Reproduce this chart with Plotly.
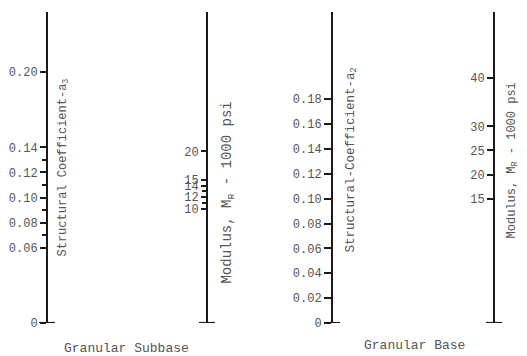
import plotly.graph_objects as go

# ---------------- data ----------------
a3_ticks = [0, 0.06, 0.08, 0.10, 0.12, 0.14, 0.20]
a3_labels = ["0", "0.06", "0.08", "0.10", "0.12", "0.14", "0.20"]
a3_minor = [0.07, 0.09, 0.11, 0.13]

mr_sub_ticks = [10, 12, 14, 15, 20]
mr_sub_labels = ["10", "12", "14", "15", "20"]
mr_sub_minor = [11, 13]

a2_ticks = [0, 0.02, 0.04, 0.06, 0.08, 0.10, 0.12, 0.14, 0.16, 0.18]
a2_labels = ["0", "0.02", "0.04", "0.06", "0.08", "0.10", "0.12", "0.14", "0.16", "0.18"]

mr_base_ticks = [15, 20, 25, 30, 40]
mr_base_labels = ["15", "20", "25", "30", "40"]

# ---------------- layout helpers ----------------
W, H = 527, 356
S = 356.0 / 347.0          # empirical vertical correction
TOP, BOT = 12, 322          # target pixel rows of axis ends
FONT = "Liberation Mono, Courier New, monospace"
TXT = "#555555"
LINE = "#1a1a1a"


def yf(p):
    """target pixel row -> paper fraction"""
    return 1 - p * S / H


def lin_range(v1, p1, v2, p2):
    k = (v2 - v1) / (p2 - p1)
    return [v1 + (BOT - p1) * k, v1 + (TOP - p1) * k]


axes_spec = [
    dict(x=47, vals=a3_ticks, text=a3_labels, minor=a3_minor,
         rng=lin_range(0.20, 72, 0.0, 322), tl=6, fs=12),
    dict(x=207, vals=mr_sub_ticks, text=mr_sub_labels, minor=mr_sub_minor,
         rng=lin_range(20, 151, 10, 208), tl=5, fs=12),
    dict(x=332, vals=a2_ticks, text=a2_labels, minor=None,
         rng=lin_range(0.18, 99, 0.0, 322), tl=7, fs=12),
    dict(x=494, vals=mr_base_ticks, text=mr_base_labels, minor=None,
         rng=lin_range(40, 78, 15, 198), tl=6, fs=12),
]

fig = go.Figure()
dom = [yf(BOT), yf(TOP)]

layout = dict(
    width=W, height=H, autosize=False,
    margin=dict(l=0, r=0, t=0, b=0, pad=0),
    paper_bgcolor="white", plot_bgcolor="white",
    showlegend=False,
    xaxis=dict(range=[0, 1], domain=[0, 1], visible=False, fixedrange=True),
)

shapes = []
for i, a in enumerate(axes_spec):
    name = "yaxis" if i == 0 else f"yaxis{i + 1}"
    ref = "y" if i == 0 else f"y{i + 1}"
    ax = dict(
        range=a["rng"], anchor="free", position=a["x"] / W, side="left",
        showline=True, linewidth=2, linecolor=LINE,
        ticks="outside", ticklen=a["tl"], tickwidth=1.5, tickcolor=LINE,
        tickvals=a["vals"], ticktext=a["text"],
        tickfont=dict(family=FONT, size=a["fs"], color=TXT),
        showgrid=False, zeroline=False, fixedrange=True,
    )
    if i == 0:
        ax["domain"] = dom
    else:
        ax["overlaying"] = "y"
    if a["minor"]:
        ax["minor"] = dict(tickvals=a["minor"], ticks="outside", ticklen=4,
                           tickwidth=1.5, tickcolor=LINE, showgrid=False)
    layout[name] = ax
    fig.add_trace(go.Scatter(x=[a["x"] / W] * len(a["vals"]), y=a["vals"],
                             yaxis=ref, mode="markers",
                             marker=dict(opacity=0), hoverinfo="skip"))
    shapes.append(dict(type="line", xref="paper", yref=ref,
                       x0=(a["x"] - 8) / W, x1=(a["x"] + 8) / W,
                       y0=a["rng"][0], y1=a["rng"][0],
                       line=dict(color=LINE, width=2)))

titles = [
    ("Structural Coefficient-a<sub>3</sub>", 64, 167, 12),
    ("Modulus, M<sub>R</sub> - 1000 psi", 228, 192, 14),
    ("Structural-Coefficient-a<sub>2</sub>", 352, 160, 12.5),
    ("Modulus, M<sub>R</sub> - 1000 psi", 513, 160, 12),
]
annotations = []
for t, x, y, fs in titles:
    annotations.append(dict(text=t, xref="paper", yref="paper",
                            x=x / W, y=yf(y), showarrow=False,
                            textangle=-90, xanchor="center", yanchor="middle",
                            font=dict(family=FONT, size=fs, color=TXT)))
for t, x, y in [("Granular Subbase", 126, 347), ("Granular Base", 414, 345)]:
    annotations.append(dict(text=t, xref="paper", yref="paper",
                            x=x / W, y=yf(y), showarrow=False,
                            xanchor="center", yanchor="middle",
                            font=dict(family=FONT, size=13, color=TXT)))

layout["shapes"] = shapes
layout["annotations"] = annotations
fig.update_layout(**layout)
fig.write_html("out.html")
